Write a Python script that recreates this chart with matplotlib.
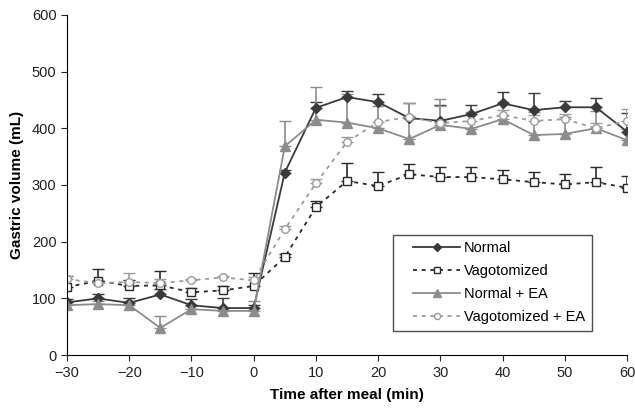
import numpy as np
import matplotlib
matplotlib.use("Agg")
import matplotlib.pyplot as plt
from matplotlib.lines import Line2D
from matplotlib.legend_handler import HandlerLine2D

plt.rcParams['font.family'] = ['Liberation Sans', 'DejaVu Sans']

time = [-30, -25, -20, -15, -10, -5, 0, 5, 10, 15, 20, 25, 30, 35, 40, 45, 50, 55, 60]

normal = [93, 100, 92, 107, 88, 83, 83, 322, 436, 455, 446, 418, 413, 425, 444, 432, 437, 437, 394]
normal_err = [6, 8, 8, 10, 11, 17, 6, 5, 10, 11, 15, 26, 28, 16, 20, 30, 11, 16, 33]

vago = [120, 131, 122, 123, 111, 114, 122, 173, 261, 307, 298, 319, 314, 314, 310, 305, 301, 305, 295]
vago_err = [19, 21, 10, 25, 8, 8, 22, 6, 10, 31, 25, 18, 18, 18, 16, 18, 19, 27, 21]

normal_ea = [88, 90, 88, 48, 81, 78, 78, 368, 415, 410, 400, 381, 406, 399, 416, 388, 390, 400, 379]
normal_ea_err = [5, 6, 8, 21, 6, 6, 18, 45, 58, 50, 40, 40, 46, 30, 30, 40, 30, 30, 20]

vago_ea = [134, 127, 129, 127, 132, 137, 132, 222, 303, 376, 411, 420, 409, 413, 423, 413, 416, 400, 413]
vago_ea_err = [6, 6, 16, 8, 3, 3, 6, 5, 8, 8, 35, 25, 31, 12, 10, 10, 10, 10, 21]

fig = plt.figure(figsize=(6.35, 4.12), dpi=100)
ax = fig.add_axes([0.1055, 0.138, 0.882, 0.826])

series = [
    ('Normal', normal, normal_err, dict(color='#3a3a3a', ls='-', marker='D', ms=5.5, mfc='#3a3a3a')),
    ('Vagotomized', vago, vago_err, dict(color='#2a2a2a', ls=(0, (2.2, 2.6)), marker='s', ms=5.5, mfc='white')),
    ('Normal + EA', normal_ea, normal_ea_err, dict(color='#8c8c8c', ls='-', marker='^', ms=7.5, mfc='#8c8c8c')),
    ('Vagotomized + EA', vago_ea, vago_ea_err, dict(color='#9c9c9c', ls=(0, (2.2, 2.6)), marker='o', ms=5.5, mfc='white')),
]

for label, y, err, st in series:
    lower = np.zeros(len(err))
    ax.errorbar(time, y, yerr=[lower, err], color=st['color'], ls=st['ls'], lw=1.3,
                marker=st['marker'], ms=st['ms'], mfc=st['mfc'], mec=st['color'], mew=1.0,
                capsize=4, capthick=1.2, elinewidth=1.2, label=label)

ax.set_xlim(-30, 60)
ax.set_ylim(0, 600)
ax.set_xticks(range(-30, 61, 10))
ax.set_xticklabels(['\u221230', '\u221220', '\u221210', '0', '10', '20', '30', '40', '50', '60'])
ax.set_yticks(range(0, 601, 100))
ax.spines['top'].set_visible(False)
ax.spines['right'].set_visible(False)
ax.tick_params(direction='out', length=4, labelsize=10.5, colors='#222222')
ax.set_xlabel('Time after meal (min)', fontsize=11, fontweight='bold', labelpad=6)
ax.set_ylabel('Gastric volume (mL)', fontsize=11, fontweight='bold', labelpad=6)

handles, labels = ax.get_legend_handles_labels()
leg = ax.legend([h[0] for h in handles], labels, loc='lower right', bbox_to_anchor=(0.95, 0.05),
                fontsize=10.5, frameon=True, fancybox=False, edgecolor='#222222',
                handlelength=4.2, borderpad=0.45, labelspacing=0.62, handletextpad=0.25,
                markerscale=0.8, handler_map={Line2D: HandlerLine2D(xpad=0.95)})
leg.get_frame().set_linewidth(1.0)

fig.savefig('out.png', dpi=100)
